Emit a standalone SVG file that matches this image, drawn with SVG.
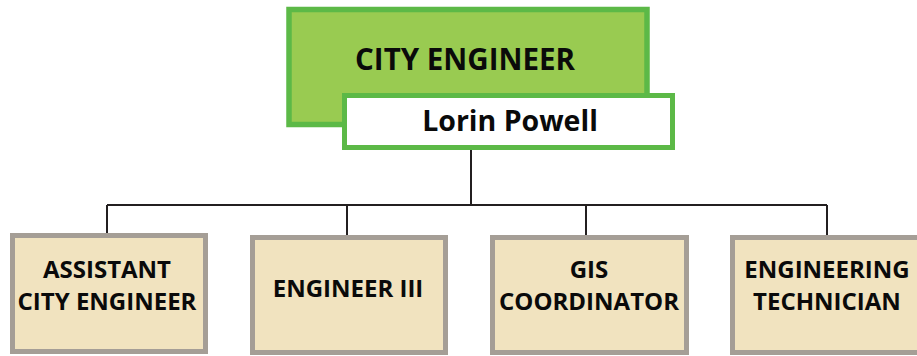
<svg xmlns="http://www.w3.org/2000/svg" width="917" height="356" viewBox="0 0 917 356">
  <style>
    .lbl { font-family: "Open Sans", "Liberation Sans", sans-serif; font-weight: 700; fill: #0a0a0a; text-anchor: middle; }
    .head { font-size: 29.5px; }
    .name { font-size: 28.5px; }
    .sub { font-size: 24px; }
    .box { fill: #f1e3bf; stroke: #a59e96; stroke-width: 5; }
    .link { fill: none; stroke: #231f20; stroke-width: 2; }
  </style>

  <!-- reporting lines -->
  <g id="connectors">
    <path class="link" d="M471 150 V205 M107 205 H827 M107 205 V233 M347 205 V235 M586 205 V235 M827 205 V235"/>
  </g>

  <!-- head of department -->
  <g id="city-engineer">
    <rect x="289" y="9.5" width="358" height="115" fill="#99cb51" stroke="#5cb947" stroke-width="5.5"/>
    <text class="lbl head" x="465" y="70">CITY ENGINEER</text>
  </g>
  <g id="lorin-powell">
    <rect x="344.5" y="95.5" width="328" height="52" fill="#ffffff" stroke="#5cb947" stroke-width="5"/>
    <text class="lbl name" x="510" y="131">Lorin Powell</text>
  </g>

  <!-- staff positions -->
  <g id="assistant-city-engineer">
    <rect class="box" x="12.5" y="235.5" width="193" height="116"/>
    <text class="lbl sub" x="107" y="278">ASSISTANT</text>
    <text class="lbl sub" x="107" y="310">CITY ENGINEER</text>
  </g>
  <g id="engineer-iii">
    <rect class="box" x="252.5" y="237.5" width="193" height="115"/>
    <text class="lbl sub" x="348" y="297">ENGINEER III</text>
  </g>
  <g id="gis-coordinator">
    <rect class="box" x="492.5" y="237.5" width="194" height="115"/>
    <text class="lbl sub" x="589" y="278">GIS</text>
    <text class="lbl sub" x="589" y="310">COORDINATOR</text>
  </g>
  <g id="engineering-technician">
    <rect class="box" x="732.5" y="237.5" width="193" height="115"/>
    <text class="lbl sub" x="827" y="278">ENGINEERING</text>
    <text class="lbl sub" x="827" y="310">TECHNICIAN</text>
  </g>
</svg>
